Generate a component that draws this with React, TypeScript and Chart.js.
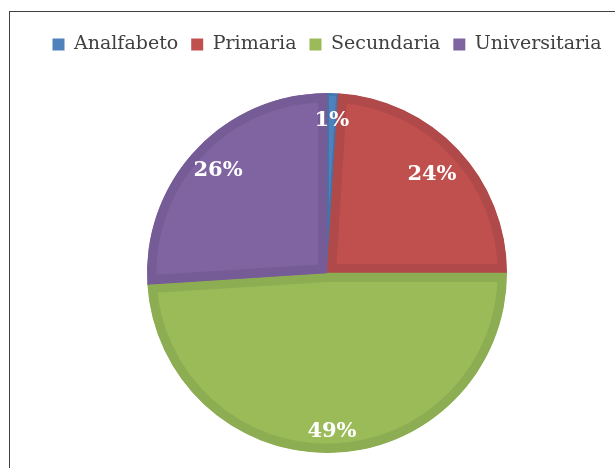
import React, { useEffect, useRef } from "react";
import { Chart, registerables } from "chart.js";

Chart.register(...registerables);

const categories = ["Analfabeto", "Primaria", "Secundaria", "Universitaria"];
const values = [1, 24, 49, 26];
const fillColors = ["#4F81BD", "#C0504D", "#9BBB59", "#8064A2"];
const edgeColors = ["#4373AB", "#B0494A", "#8DAD52", "#765C96"];

const labelPlugin = {
  id: "sliceLabels",
  afterDatasetsDraw(chart: any) {
    const ctx = chart.ctx;
    const meta = chart.getDatasetMeta(0);
    const fractions = [0.85, 0.8, 0.88, 0.83];
    ctx.save();
    ctx.fillStyle = "#FFFFFF";
    ctx.font = "bold 21px 'DejaVu Serif', serif";
    ctx.textAlign = "center";
    ctx.textBaseline = "middle";
    meta.data.forEach((arc: any, i: number) => {
      const p = arc.getProps(["x", "y", "startAngle", "endAngle", "outerRadius"], true);
      const mid = (p.startAngle + p.endAngle) / 2;
      const r = p.outerRadius * fractions[i];
      ctx.fillText(values[i] + "%", p.x + Math.cos(mid) * r, p.y + Math.sin(mid) * r);
    });
    ctx.restore();
  },
};

export default function App() {
  const ref = useRef<HTMLCanvasElement>(null);
  useEffect(() => {
    if (!ref.current) return;
    const chart = new Chart(ref.current, {
      type: "pie",
      data: {
        labels: categories,
        datasets: [
          {
            data: values,
            backgroundColor: fillColors,
            borderColor: edgeColors,
            borderWidth: [2, 9, 9, 9],
            borderAlign: "inner",
            radius: 180,
          } as any,
        ],
      },
      options: {
        animation: false,
        responsive: false,
        layout: { padding: { top: 10, bottom: 10, left: 0, right: 0 } },
        plugins: {
          tooltip: { enabled: false },
          legend: {
            position: "top",
            labels: {
              boxWidth: 12,
              boxHeight: 12,
              padding: 13,
              color: "#404040",
              font: { family: "'DejaVu Serif', serif", size: 19 },
              generateLabels: (c: any) =>
                categories.map((t, i) => ({
                  text: t,
                  fillStyle: fillColors[i],
                  strokeStyle: fillColors[i],
                  lineWidth: 0,
                  hidden: false,
                  index: i,
                  fontColor: "#404040",
                })),
            },
          },
        },
      },
      plugins: [labelPlugin],
    });
    return () => chart.destroy();
  }, []);
  return (
    <div
      style={{
        position: "absolute",
        left: 9,
        top: 11,
        width: 634,
        height: 480,
        border: "1px solid #404040",
        background: "#fff",
      }}
    >
      <canvas ref={ref} width={634} height={480} style={{ display: "block" }} />
    </div>
  );
}
